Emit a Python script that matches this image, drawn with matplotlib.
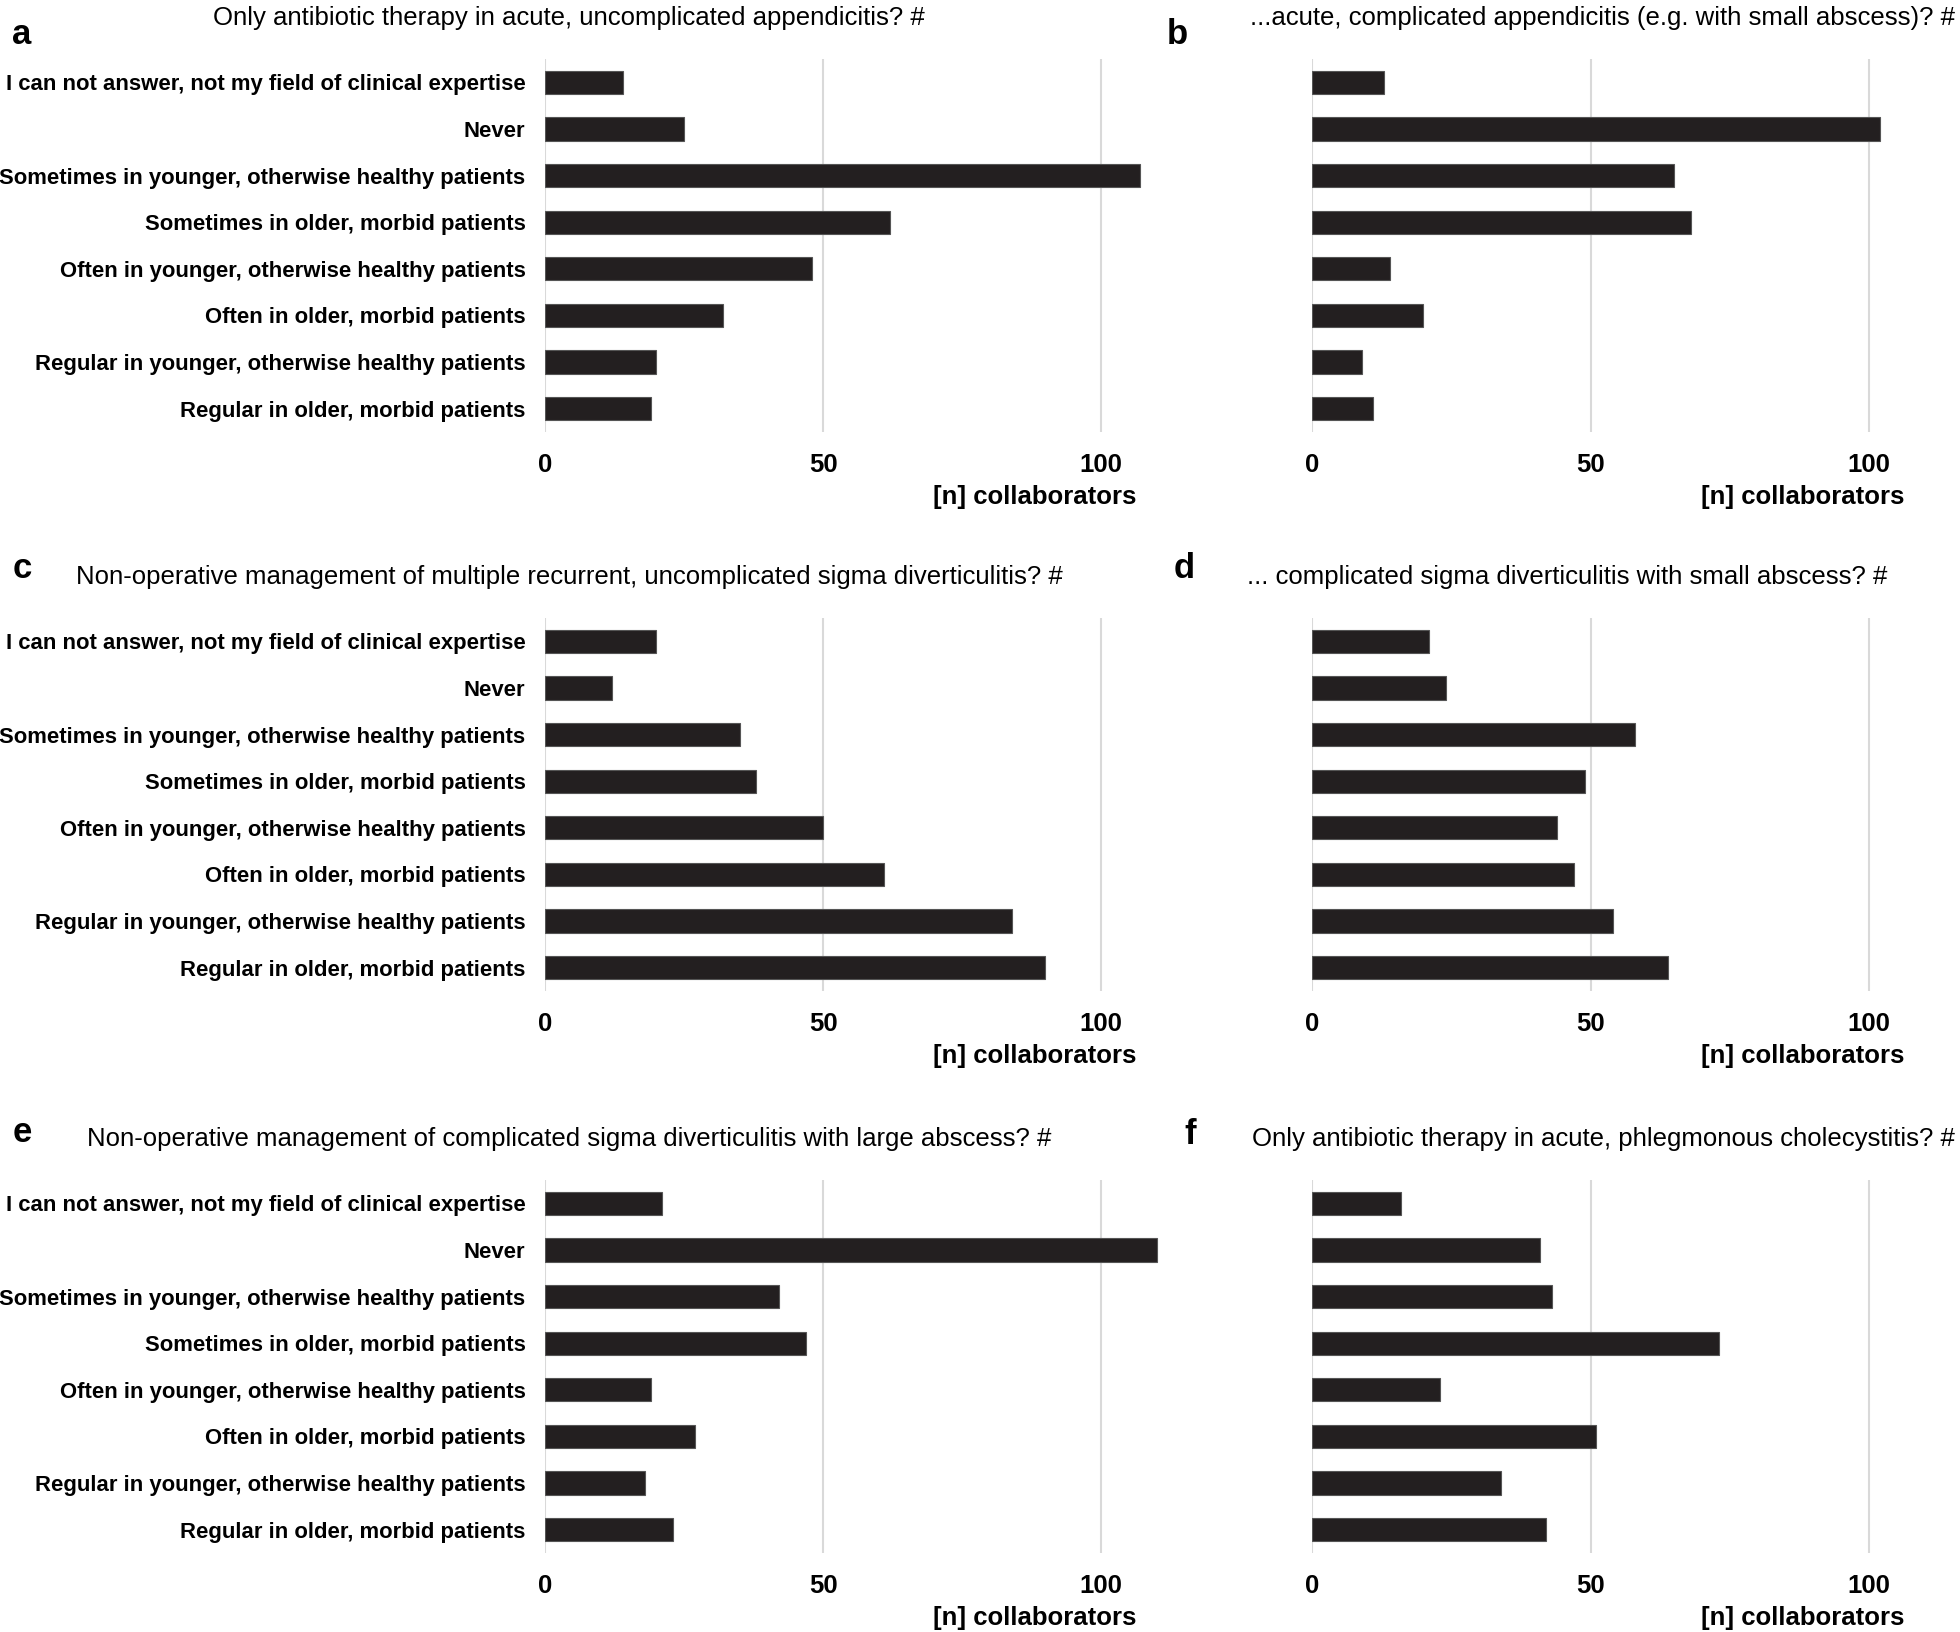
import matplotlib
matplotlib.use("Agg")
import matplotlib.pyplot as plt
from matplotlib.transforms import blended_transform_factory

plt.rcParams["font.family"] = ["Liberation Sans Narrow", "Liberation Sans", "DejaVu Sans"]

categories = [
    "I can not answer, not my field of clinical expertise",
    "Never",
    "Sometimes in younger, otherwise healthy patients",
    "Sometimes in older, morbid patients",
    "Often in younger, otherwise healthy patients",
    "Often in older, morbid patients",
    "Regular in younger, otherwise healthy patients",
    "Regular in older, morbid patients",
]

values_a = [14, 25, 107, 62, 48, 32, 20, 19]
values_b = [13, 102, 65, 68, 14, 20, 9, 11]
values_c = [20, 12, 35, 38, 50, 61, 84, 90]
values_d = [21, 24, 58, 49, 44, 47, 54, 64]
values_e = [21, 110, 42, 47, 19, 27, 18, 23]
values_f = [16, 41, 43, 73, 23, 51, 34, 42]

titles = [
    "Only antibiotic therapy in acute, uncomplicated appendicitis? #",
    "...acute, complicated appendicitis (e.g. with small abscess)? #",
    "Non-operative management of multiple recurrent, uncomplicated sigma diverticulitis? #",
    "... complicated sigma diverticulitis with small abscess? #",
    "Non-operative management of complicated sigma diverticulitis with large abscess? #",
    "Only antibiotic therapy in acute, phlegmonous cholecystitis? #",
]
letters = ["a", "b", "c", "d", "e", "f"]
ticks = [0, 50, 100]
xlabel = "[n] collaborators"

W, H = 1960, 1632
fig = plt.figure(figsize=(W / 100, H / 100), dpi=100)

data = [values_a, values_b, values_c, values_d, values_e, values_f]
col_x0 = [545, 1312]
px_per_unit = [5.56, 5.57]
row_top = [59, 618, 1180]
row_h = 373
xmax = 112

# title / letter positions (pixels from top-left)
letter_pos = [(22, 35), (1177, 35), (22, 569), (1184, 569), (22, 1133), (1190, 1135)]
title_pos = [(569, 18), (1250, 18), (569, 577), (1247, 577), (569, 1139), (1252, 1139)]

for i, vals in enumerate(data):
    r, c = divmod(i, 2)
    x0 = col_x0[c]
    w = xmax * px_per_unit[c]
    ax = fig.add_axes([x0 / W, 1 - (row_top[r] + row_h) / H, w / W, row_h / H])
    y = list(range(len(categories)))
    ax.barh(y, vals, height=0.5, color="#231f20", edgecolor="#555555", linewidth=0.8, zorder=3)
    ax.set_ylim(len(categories) - 0.5, -0.5)
    ax.set_xlim(0, xmax)
    ax.set_xticks(ticks)
    ax.xaxis.grid(True, color="#d9d9d9", linewidth=1.5, zorder=0)
    for s in ax.spines.values():
        s.set_visible(False)
    ax.tick_params(axis="both", length=0)
    ax.tick_params(axis="x", pad=15, labelsize=18.5)
    ax.set_yticks(y)
    if c == 0:
        ax.set_yticklabels(categories, fontsize=15.9, fontweight="bold")
        ax.tick_params(axis="y", pad=14)
    else:
        ax.set_yticklabels([])
    for lab in ax.get_xticklabels():
        lab.set_fontweight("bold")
    trans = blended_transform_factory(ax.transData, ax.transAxes)
    ax.text(106.3, -0.175, xlabel, transform=trans, ha="right", va="center",
            fontsize=18.5, fontweight="bold")

    lx, ly = letter_pos[i]
    fig.text(lx / W, 1 - ly / H, letters[i], fontsize=25, fontweight="bold",
             ha="center", va="center")
    tx, ty = title_pos[i]
    fig.text(tx / W, 1 - ty / H, titles[i], fontsize=18.5,
             ha="center" if c == 0 else "left", va="center")

fig.savefig("out.png", dpi=100)
